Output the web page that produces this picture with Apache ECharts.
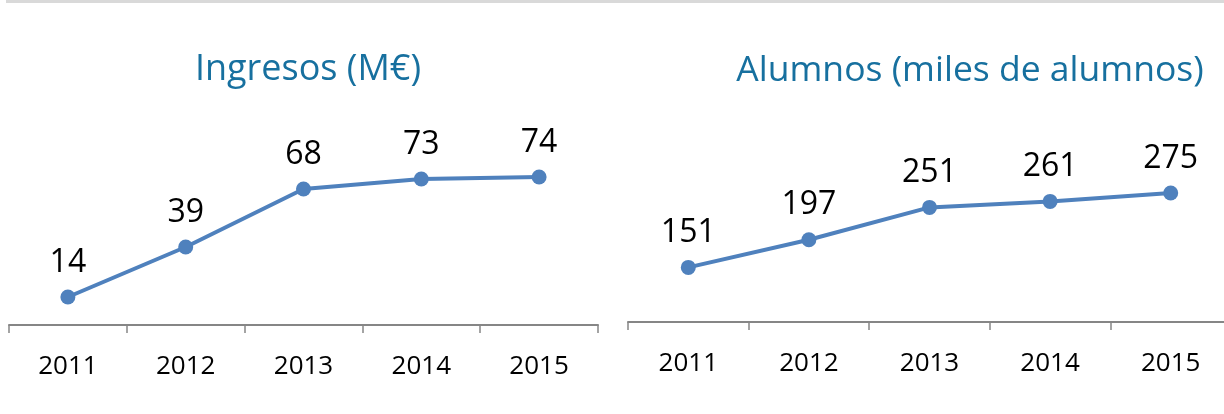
<!DOCTYPE html>
<html>
<head>
<meta charset="utf-8">
<script src="https://cdn.jsdelivr.net/npm/echarts@6/dist/echarts.min.js"></script>
<style>html,body{margin:0;padding:0;background:#fff;}#c{width:1224px;height:414px;}</style>
</head>
<body>
<div id="c"></div>
<script>
const years = ['2011', '2012', '2013', '2014', '2015'];
const ingresos = [14, 39, 68, 73, 74];
const alumnos = [151, 197, 251, 261, 275];
const titles = ['Ingresos (M€)', 'Alumnos (miles de alumnos)'];

const FONT = '"Open Sans", "DejaVu Sans", sans-serif';
const LINE = '#4F81BD';
const AXIS = '#868686';
const TITLE = '#17709F';

function xAxis(gridIndex) {
  return {
    type: 'category', gridIndex: gridIndex, data: years, boundaryGap: true,
    axisLine: { show: true, lineStyle: { color: AXIS, width: 2 } },
    axisTick: { show: true, length: 8, lineStyle: { color: AXIS, width: 1.5 } },
    axisLabel: { color: '#000', fontFamily: FONT, fontSize: 26, margin: 29 },
    splitLine: { show: false }
  };
}
function yAxis(gridIndex, min, max) {
  return {
    type: 'value', gridIndex: gridIndex, min: min, max: max, show: false,
    splitLine: { show: false }
  };
}
function series(idx, data) {
  return {
    type: 'line', xAxisIndex: idx, yAxisIndex: idx, data: data,
    symbol: 'circle', symbolSize: 15,
    lineStyle: { color: LINE, width: 4 },
    itemStyle: { color: LINE },
    label: { show: true, position: 'top', distance: 11, color: '#000', fontFamily: FONT, fontSize: 32 },
    animation: false
  };
}

const chart = echarts.init(document.getElementById('c'), null, { renderer: 'canvas' });
chart.setOption({
  backgroundColor: '#fff',
  animation: false,
  graphic: [{ type: 'rect', shape: { x: 6, y: 0, width: 1218, height: 3 }, style: { fill: '#d9d9d9' } }],
  title: [
    { text: titles[0], left: 303, top: 47, textAlign: 'center', textStyle: { color: TITLE, fontFamily: FONT, fontSize: 36, fontWeight: 'normal' } },
    { text: titles[1], left: 965, top: 48, textAlign: 'center', textStyle: { color: TITLE, fontFamily: FONT, fontSize: 35.5, fontWeight: 'normal' } }
  ],
  grid: [
    { left: 9, width: 589, top: 125, height: 200, outerBoundsMode: 'none', containLabel: false },
    { left: 628, width: 603, top: 172, height: 150, outerBoundsMode: 'none', containLabel: false }
  ],
  xAxis: [xAxis(0), xAxis(1)],
  yAxis: [yAxis(0, 0, 100), yAxis(1, 60, 310)],
  series: [series(0, ingresos), series(1, alumnos)]
});
</script>
</body>
</html>
